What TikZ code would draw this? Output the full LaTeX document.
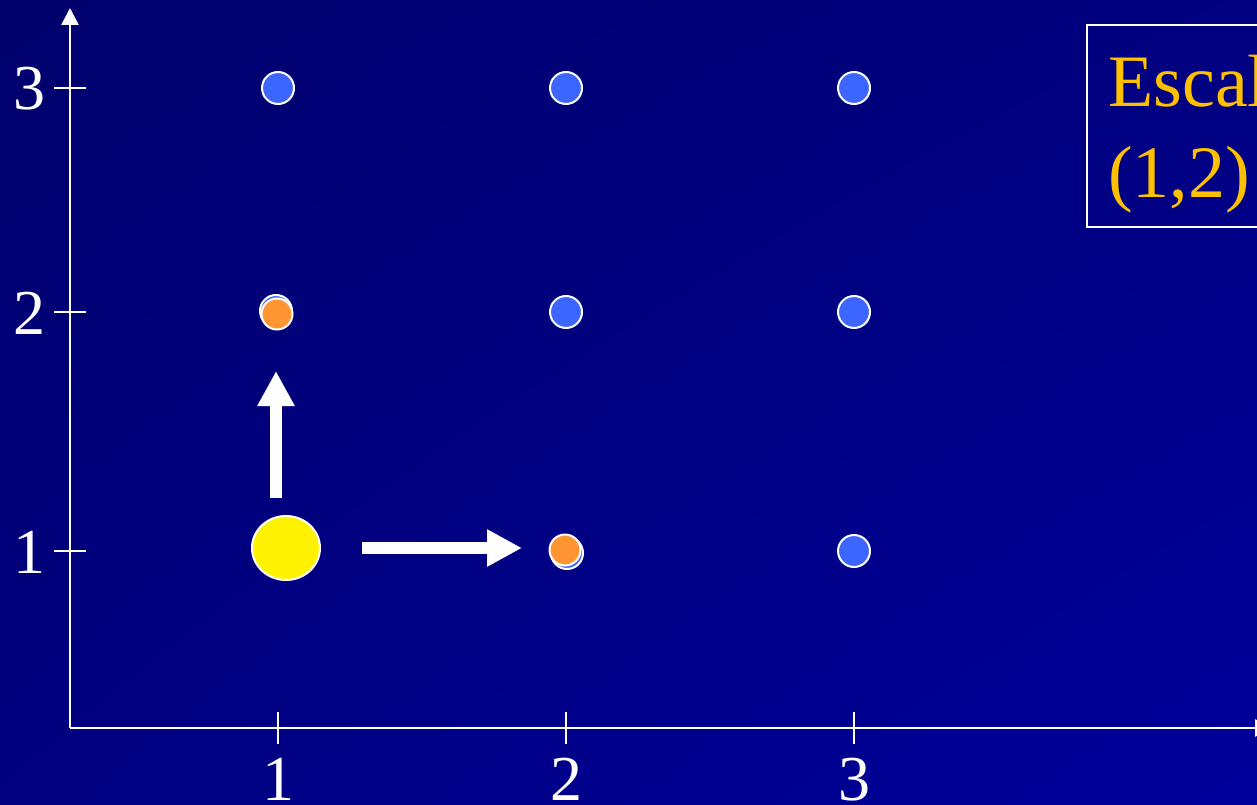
\documentclass[tikz,border=0pt]{standalone}
\usepackage{fontspec}
\setmainfont{Liberation Serif}
\usetikzlibrary{arrows.meta,shadings,shapes.geometric}
\definecolor{bgA}{RGB}{0,0,108}
\definecolor{bgB}{RGB}{0,0,128}
\definecolor{bgC}{RGB}{0,0,155}
\definecolor{dotblue}{RGB}{60,102,255}
\definecolor{dotorange}{RGB}{255,150,50}
\definecolor{txtgold}{RGB}{255,192,0}
\tikzset{
  axis/.style={draw=white, line width=2.5pt},
  tick/.style={draw=white, line width=2.5pt},
  lab/.style={text=white, font=\fontsize{64}{70}\selectfont, inner sep=0pt},
  bdot/.style={circle, fill=dotblue, draw=white, line width=2pt, minimum size=32pt, inner sep=0pt},
  odot/.style={circle, fill=dotorange, draw=white, line width=2pt, minimum size=31pt, inner sep=0pt},
  bigarrow/.style={draw=white, line width=12pt, -{Triangle[width=35pt,length=35pt]}},
  boxtext/.style={text=txtgold, font=\fontsize{74}{90}\selectfont, inner sep=0pt, anchor=base west}
}
\begin{document}
\begin{tikzpicture}[x=1pt,y=-1pt]
\useasboundingbox (0,0) rectangle (1257,805);
\clip (0,0) rectangle (1257,805);
\shade[upper left=bgA, upper right=bgB, lower left=bgB, lower right=bgC] (0,0) rectangle (1257,805);

% box
\draw[white, line width=2.5pt] (1300,25) -- (1087,25) -- (1087,227) -- (1300,227);
\node[boxtext] (t1) at (1108,107) {Escal};
\node[boxtext] (t2) at (1108,197) {(1,2)};

% axes
\coordinate (O) at (70,728);
\coordinate (Ytop) at (70,8);
\coordinate (Xend) at (1272,728);
\draw[axis, -{Triangle[width=17pt,length=17pt]}] (O) -- (Ytop);
\draw[axis, -{Triangle[width=17pt,length=17pt]}] (O) -- (Xend);

% y ticks
\foreach \v/\y in {3/88, 2/312, 1/551} {
  \draw[tick] (54,\y) -- (86,\y);
  \node[lab, anchor=base east] (yl\v) at (46,\y+22) {\v};
}
% x ticks
\foreach \v/\x in {1/278, 2/566, 3/854} {
  \draw[tick] (\x,712) -- (\x,744);
  \node[lab, anchor=base] (xl\v) at (\x,800) {\v};
}

% blue dots
\node[bdot] (d13) at (278,88) {};
\node[bdot] (d23) at (566,88) {};
\node[bdot] (d33) at (854,88) {};
\node[bdot] (d22) at (566,312) {};
\node[bdot] (d32) at (854,312) {};
\node[bdot] (d31) at (854,551) {};
\node[bdot] (d12) at (276,311) {};
\node[bdot] (d21) at (567,553) {};
% orange dots
\node[odot] (o12) at (277,314) {};
\node[odot] (o21) at (565,550) {};

% yellow point
\node[ellipse, fill=yellow, draw=white, line width=2pt, minimum width=68pt, minimum height=64pt, inner sep=0pt] (yel) at (286,548) {};

% arrows
\coordinate (ua1) at (276,498);
\coordinate (ua2) at (276,371);
\coordinate (ra1) at (362,548);
\coordinate (ra2) at (522,548);
\draw[bigarrow] (ua1) -- (ua2);
\draw[bigarrow] (ra1) -- (ra2);
\end{tikzpicture}
\end{document}
